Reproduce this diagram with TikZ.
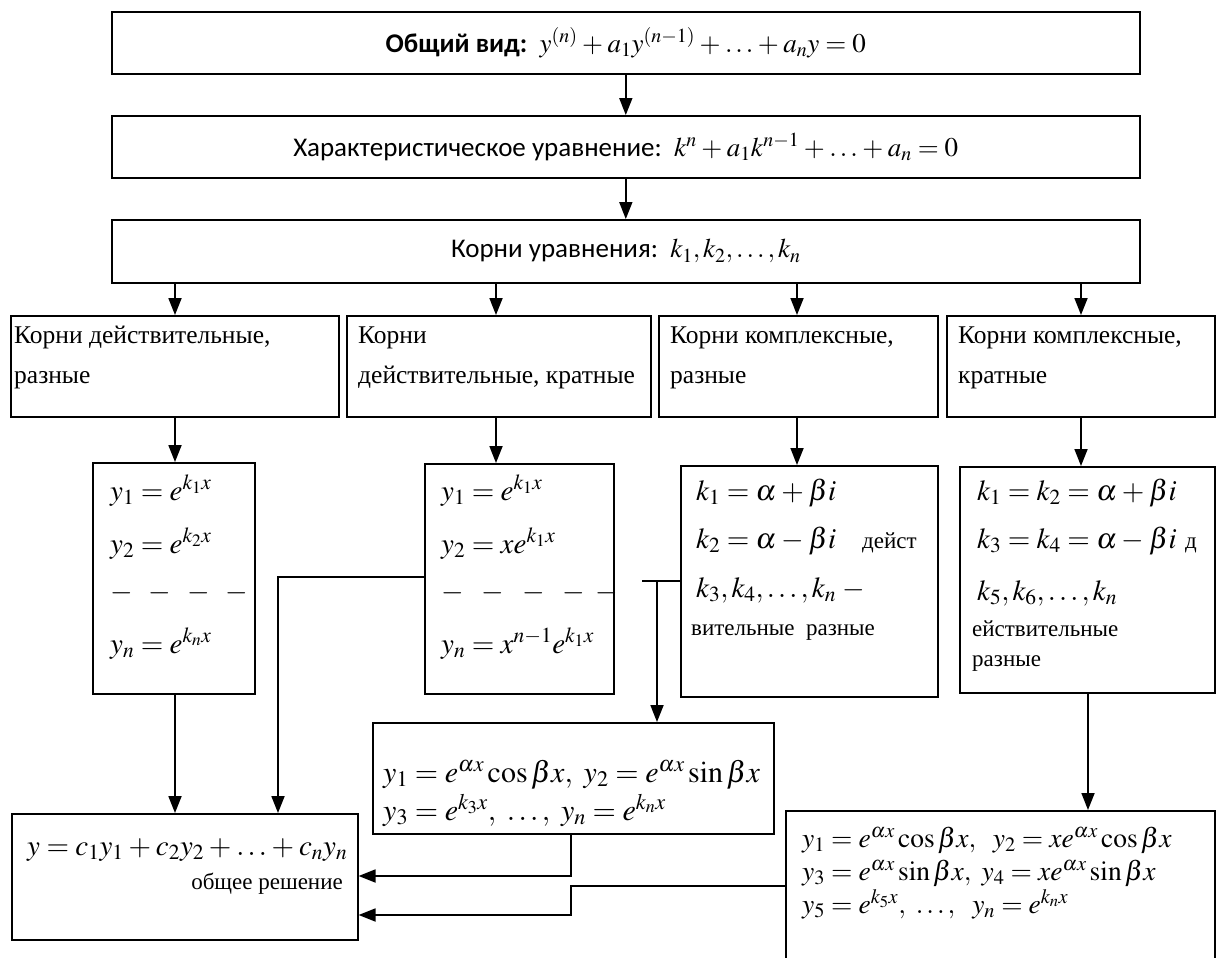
\documentclass[tikz,border=0pt]{standalone}
\usepackage{mathptmx}
\usepackage{fontspec}
\setmainfont{Liberation Serif}
\newfontfamily\serfnt{Liberation Serif}
\newfontfamily\sansfnt{Carlito}
\usetikzlibrary{arrows.meta}
\newcommand{\linestack}[2]{\vtop{\baselineskip=#1\lineskiplimit=-1000pt\lineskip=0pt #2}}
\newcommand{\dsh}{\ensuremath{-}}
\tikzset{
  box/.style={draw, line width=1.6pt, rectangle, inner sep=0pt, anchor=north west},
  topbox/.style={box, font=\sansfnt\fontsize{27}{32}\selectfont},
  wire/.style={line width=1.8pt},
  conn/.style={line width=1.8pt, -{Triangle[length=17pt,width=13pt]}},
  lbl/.style={anchor=base west, inner sep=0pt, font=\serfnt\fontsize{25.5}{30}\selectfont},
  sml/.style={anchor=base west, inner sep=0pt, font=\serfnt\fontsize{23}{28}\selectfont},
  mth/.style={anchor=base west, inner sep=0pt, font=\serfnt\fontsize{29}{34}\selectfont},
  mthb/.style={anchor=base west, inner sep=0pt, font=\serfnt\fontsize{30}{34}\selectfont},
  mths/.style={anchor=base west, inner sep=0pt, font=\serfnt\fontsize{27.5}{34}\selectfont},
}
\begin{document}
\thickmuskip=4mu plus 2mu
\medmuskip=3mu plus 1mu minus 1mu
\begin{tikzpicture}[x=1pt,y=-1pt]
\useasboundingbox (0,0) rectangle (1216,958);
\clip (0,0) rectangle (1216,958);
% top boxes
\node[topbox, minimum width=1028pt, minimum height=62pt] (b1) at (111,11)
  {\textbf{Общий вид:}\ \ $y^{(n)}+a_1y^{(n-1)}+\ldots+a_ny=0$};
\node[topbox, minimum width=1028pt, minimum height=62pt] (b2) at (111,115)
  {Характеристическое уравнение:\ \ $k^n+a_1k^{n-1}+\ldots+a_n=0$};
\node[topbox, minimum width=1028pt, minimum height=63pt] (b3) at (111,219)
  {Корни уравнения:\ \ $k_1,k_2,\ldots,k_n$};
% category boxes
\node[box, minimum width=328pt, minimum height=101pt] (cA) at (10,315) {};
\node[box, minimum width=304pt, minimum height=101pt] (cB) at (346,315) {};
\node[box, minimum width=279pt, minimum height=101pt] (cC) at (658,315) {};
\node[box, minimum width=268pt, minimum height=101pt] (cD) at (946,315) {};
\node[lbl] (cA1) at (14,343) {Корни действительные,};
\node[lbl] (cA2) at (14,383) {разные};
\node[lbl] (cB1) at (358,343) {Корни};
\node[lbl] (cB2) at (358,383) {действительные, кратные};
\node[lbl] (cC1) at (670,343) {Корни комплексные,};
\node[lbl] (cC2) at (670,383) {разные};
\node[lbl] (cD1) at (958,343) {Корни комплексные,};
\node[lbl] (cD2) at (958,383) {кратные};
% formula boxes
\node[box, minimum width=162pt, minimum height=231pt] (fA) at (92,462) {};
\node[box, minimum width=189pt, minimum height=230pt] (fB) at (424,463) {};
\node[box, minimum width=257pt, minimum height=231pt] (fC) at (680,465) {};
\node[box, minimum width=255pt, minimum height=226pt] (fD) at (959,466) {};
\node[mth] (fA1) at (110,500) {$y_1=e^{k_1x}$};
\node[mth] (fA2) at (110,553) {$y_2=e^{k_2x}$};
\node[mth] (fA3) at (110,600) {\dsh\hspace{16pt}\dsh\hspace{16pt}\dsh\hspace{16pt}\dsh};
\node[mth] (fA4) at (110,653) {$y_n=e^{k_nx}$};
\node[mth] (fB1) at (441,500) {$y_1=e^{k_1x}$};
\node[mth] (fB2) at (441,553) {$y_2=xe^{k_1x}$};
\node[mth] (fB3) at (441,600) {\dsh\hspace{18pt}\dsh\hspace{18pt}\dsh\hspace{18pt}\dsh\hspace{10pt}\dsh};
\node[mth] (fB4) at (441,653) {$y_n=x^{n-1}e^{k_1x}$};
\node[mth] (fC1) at (696,500) {$k_1=\alpha+\beta i$};
\node[mth] (fC2) at (696,548) {$k_2=\alpha-\beta i$};
\node[sml] (fC2b) at (862,548) {дейст};
\node[mth] (fC3) at (696,597) {$k_3,k_4,\ldots,k_n\;-$};
\node[sml] (fC4) at (691,635) {вительные\ \ разные};
\node[mth] (fD1) at (977,500) {$k_1=k_2=\alpha+\beta i$};
\node[mth] (fD2) at (977,548) {$k_3=k_4=\alpha-\beta i$};
\node[sml] (fD2b) at (1185,548) {д};
\node[mth] (fD3) at (977,600) {$k_5,k_6,\ldots,k_n$};
\node[sml] (fD4) at (972,636) {ействительные};
\node[sml] (fD5) at (972,666) {разные};
% middle box
\node[box, minimum width=401pt, minimum height=111pt] (mid) at (372,722) {};
\node[mthb] (m1) at (383,782) {\linestack{38pt}{%
  \hbox{$y_1=e^{\alpha x}\cos\beta x,\ y_2=e^{\alpha x}\sin\beta x$}%
  \hbox{$y_3=e^{k_3x},\ \ldots,\ y_n=e^{k_nx}$}}};
% right bottom box
\node[box, minimum width=429pt, minimum height=170pt] (E) at (785,810) {};
\node[mths] (e1) at (802,847) {\linestack{33pt}{%
  \hbox{$y_1=e^{\alpha x}\cos\beta x,\ \ y_2=xe^{\alpha x}\cos\beta x$}%
  \hbox{$y_3=e^{\alpha x}\sin\beta x,\ y_4=xe^{\alpha x}\sin\beta x$}%
  \hbox{$y_5=e^{k_5x},\ \ldots,\ \ y_n=e^{k_nx}$}}};
% result box
\node[box, minimum width=346pt, minimum height=126pt] (res) at (11,813) {};
\node[mth] (r1) at (27,855) {$y=c_1y_1+c_2y_2+\ldots+c_ny_n$};
\node[sml, anchor=base east] (r2) at (343,889) {общее решение};
% helper coordinates
\coordinate (xa) at (175,0);
\coordinate (xb) at (496,0);
\coordinate (xc) at (797,0);
\coordinate (xd) at (1081,0);
\coordinate (xe) at (1088,0);
\coordinate (sB) at (278,577);
\coordinate (sC) at (642,581);
\coordinate (sC2) at (657,581);
\coordinate (sM) at (571,876);
\coordinate (sE1) at (571,886);
\coordinate (sE2) at (571,915);
% connectors
\draw[conn] (b1.south) -- (b2.north);
\draw[conn] (b2.south) -- (b3.north);
\draw[conn] (b3.south -| xa) -- (cA.north -| xa);
\draw[conn] (b3.south -| xb) -- (cB.north -| xb);
\draw[conn] (b3.south -| xc) -- (cC.north -| xc);
\draw[conn] (b3.south -| xd) -- (cD.north -| xd);
\draw[conn] (cA.south -| xa) -- (fA.north -| xa);
\draw[conn] (cB.south -| xb) -- (fB.north -| xb);
\draw[conn] (cC.south -| xc) -- (fC.north -| xc);
\draw[conn] (cD.south -| xd) -- (fD.north -| xd);
\draw[conn] (fA.south -| xa) -- (res.north -| xa);
\draw[conn] (fB.west |- sB) -- (sB) -- (sB |- res.north);
\draw[wire] (fC.west |- sC) -- (sC);
\draw[conn] (sC2) -- (sC2 |- mid.north);
\draw[conn] (fD.south -| xe) -- (E.north -| xe);
\draw[conn] (mid.south -| sM) -- (sM) -- (sM -| res.east);
\draw[conn] (E.west |- sE1) -- (sE1) -- (sE2) -- (sE2 -| res.east);
\end{tikzpicture}
\end{document}
